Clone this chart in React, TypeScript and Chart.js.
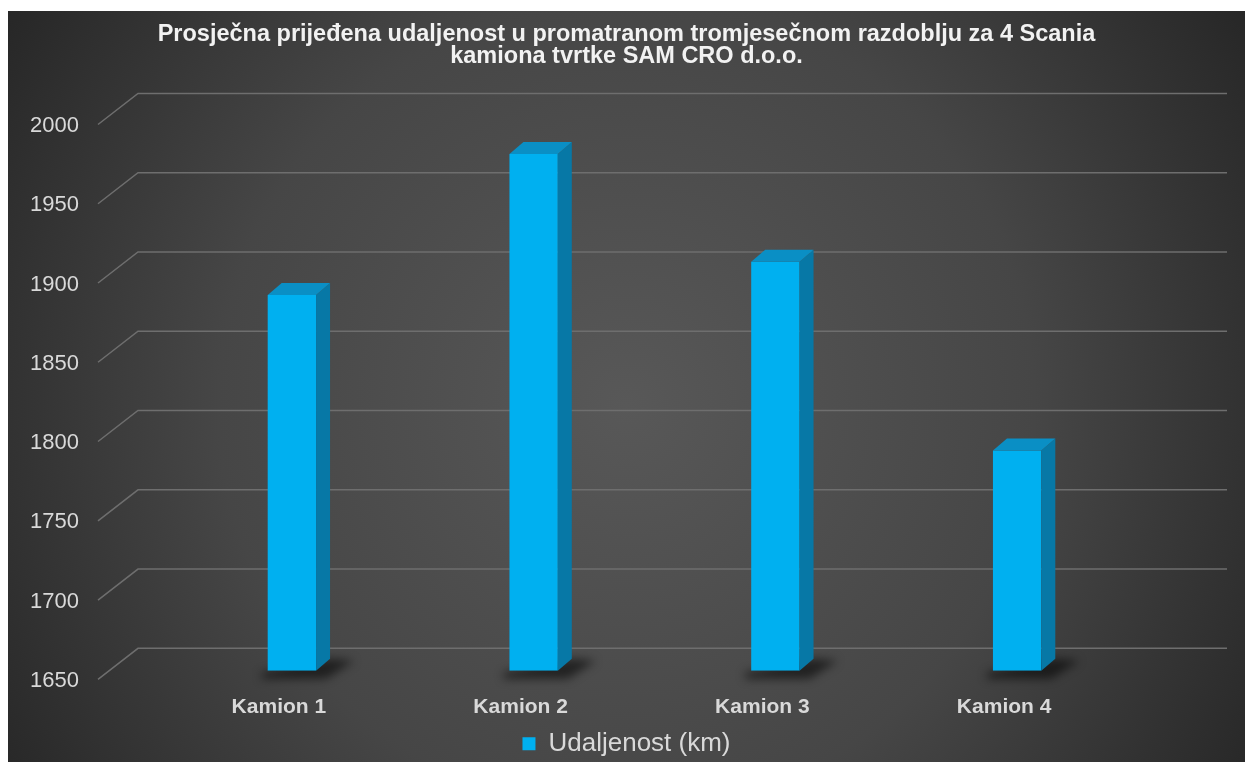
import React, { useEffect, useRef } from 'react';
import { Chart, registerables } from 'chart.js';

Chart.register(...registerables);

const categories = ['Kamion 1', 'Kamion 2', 'Kamion 3', 'Kamion 4'];
const distances = [1887, 1976, 1908, 1789];
const seriesLabel = 'Udaljenost (km)';
const titleLines = [
  'Prosječna prijeđena udaljenost u promatranom tromjesečnom razdoblju za 4 Scania',
  'kamiona tvrtke SAM CRO d.o.o.',
];
const yMin = 1650;
const yMax = 2000;
const yStep = 50;

const FONT = '"Liberation Sans", Arial, sans-serif';
const DEPTH_X = 14;
const DEPTH_Y = 12;

const backgroundPlugin = {
  id: 'darkBackground',
  beforeDraw(chart: any) {
    const { ctx, width, height } = chart;
    const cx = width * 0.5;
    const cy = height * 0.52;
    ctx.save();
    const g = ctx.createRadialGradient(cx, cy, 0, cx, cy, width * 0.6);
    g.addColorStop(0, '#585858');
    g.addColorStop(0.55, '#464646');
    g.addColorStop(1, '#262626');
    ctx.fillStyle = g;
    ctx.fillRect(0, 0, width, height);
    ctx.restore();
  },
};

const gridPlugin = {
  id: 'perspectiveGrid',
  beforeDatasetsDraw(chart: any) {
    const { ctx, chartArea } = chart;
    const yScale = chart.scales.y;
    const frontX = chartArea.left - 73;
    const backX = chartArea.left - 33;
    const backRight = chartArea.right + 89;
    ctx.save();
    ctx.strokeStyle = '#6e6e6e';
    ctx.lineWidth = 1.5;
    yScale.ticks.forEach((t: any) => {
      const p = yScale.getPixelForValue(t.value);
      ctx.beginPath();
      ctx.moveTo(frontX, p + 8.5);
      ctx.lineTo(backX, p - 22.5);
      ctx.lineTo(backRight, p - 22.5);
      ctx.stroke();
    });
    const meta = chart.getDatasetMeta(0);
    meta.data.forEach((bar: any) => {
      const { x, base, width } = bar.getProps(['x', 'base', 'width'], true);
      const l = x - width / 2;
      const r = x + width / 2;
      ctx.save();
      ctx.filter = 'blur(5px)';
      ctx.fillStyle = 'rgba(0,0,0,0.55)';
      ctx.beginPath();
      ctx.moveTo(l - 6, base + 2);
      ctx.lineTo(r + DEPTH_X, base - DEPTH_Y);
      ctx.lineTo(r + DEPTH_X + 24, base - DEPTH_Y + 2);
      ctx.lineTo(r + 10, base + 8);
      ctx.lineTo(l - 6, base + 8);
      ctx.closePath();
      ctx.fill();
      ctx.restore();
    });
    ctx.restore();
  },
};

const bar3dPlugin = {
  id: 'bar3d',
  afterDatasetsDraw(chart: any) {
    const { ctx } = chart;
    const meta = chart.getDatasetMeta(0);
    ctx.save();
    meta.data.forEach((bar: any) => {
      const { x, y, base, width } = bar.getProps(['x', 'y', 'base', 'width'], true);
      const l = x - width / 2;
      const r = x + width / 2;
      ctx.fillStyle = '#0778a6';
      ctx.beginPath();
      ctx.moveTo(r, y);
      ctx.lineTo(r + DEPTH_X, y - DEPTH_Y);
      ctx.lineTo(r + DEPTH_X, base - DEPTH_Y);
      ctx.lineTo(r, base);
      ctx.closePath();
      ctx.fill();
      ctx.fillStyle = '#0a8fc5';
      ctx.beginPath();
      ctx.moveTo(l, y);
      ctx.lineTo(l + DEPTH_X, y - DEPTH_Y);
      ctx.lineTo(r + DEPTH_X, y - DEPTH_Y);
      ctx.lineTo(r, y);
      ctx.closePath();
      ctx.fill();
    });
    ctx.restore();
  },
};

export default function App() {
  const canvasRef = useRef<HTMLCanvasElement | null>(null);

  useEffect(() => {
    const canvas = canvasRef.current;
    if (!canvas) return;
    Chart.defaults.font.family = FONT;
    const chart = new Chart(canvas, {
      type: 'bar',
      data: {
        labels: categories,
        datasets: [
          {
            label: seriesLabel,
            data: distances,
            base: yMin,
            backgroundColor: '#00b0f0',
            borderWidth: 0,
            categoryPercentage: 1,
            barPercentage: 0.2,
            yAxisID: 'y',
          },
        ],
      },
      options: {
        animation: false,
        responsive: false,
        devicePixelRatio: 1,
        layout: { padding: 0 },
        scales: {
          x: {
            grid: { display: false },
            border: { display: false },
            ticks: {
              color: '#d9d9d9',
              font: { family: FONT, size: 21, weight: 'bold' },
              padding: 16,
              labelOffset: -13,
              maxRotation: 0,
            },
            afterFit(s: any) {
              s.height = 54;
            },
          },
          y: {
            min: yMin,
            max: yMax,
            grid: { display: false },
            border: { display: false },
            ticks: {
              stepSize: yStep,
              color: '#d9d9d9',
              font: { family: FONT, size: 22 },
              padding: 84,
              labelOffset: 10,
              callback: (v: any) => String(v),
            },
            afterFit(s: any) {
              s.width = 163;
            },
          },
          y2: {
            type: 'linear',
            position: 'right',
            grid: { display: false },
            border: { display: false },
            ticks: { display: false },
            afterFit(s: any) {
              s.width = 107;
            },
          },
        },
        plugins: {
          title: {
            display: true,
            text: titleLines,
            color: '#f2f2f2',
            font: { family: FONT, size: 23.5, weight: 'bold', lineHeight: '22px' },
            padding: { top: 13, bottom: 48 },
          },
          legend: {
            display: true,
            position: 'bottom',
            labels: {
              color: '#d9d9d9',
              font: { family: FONT, size: 26 },
              boxWidth: 13,
              boxHeight: 13,
              padding: 6,
            },
          },
          tooltip: { enabled: false },
        },
      },
      plugins: [backgroundPlugin, gridPlugin, bar3dPlugin],
    } as any);
    return () => chart.destroy();
  }, []);

  return (
    <div style={{ position: 'fixed', left: 8, top: 11, width: 1237, height: 757 }}>
      <canvas ref={canvasRef} width={1237} height={757} style={{ display: 'block' }} />
    </div>
  );
}
